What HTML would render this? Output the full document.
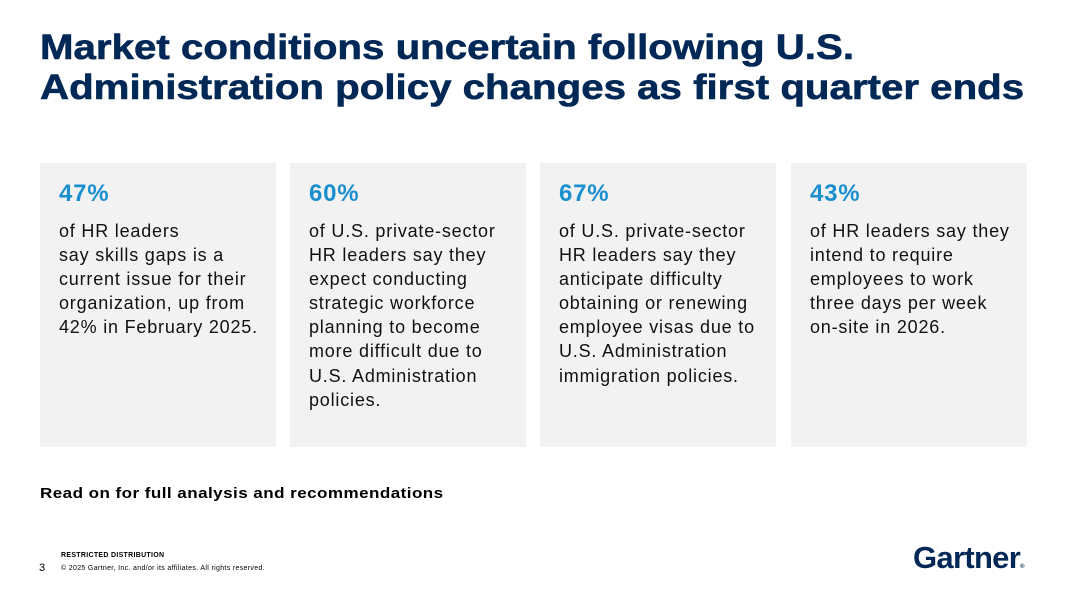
<!DOCTYPE html>
<html><head><style>
body{margin:0;width:1067px;height:600px;background:#fff;font-family:"Liberation Sans",sans-serif;position:relative;overflow:hidden}
h1{position:absolute;left:40px;top:28px;margin:0;font-size:35px;line-height:40px;color:#002856;font-weight:bold;white-space:nowrap;transform:scaleX(1.15);transform-origin:0 0;-webkit-text-stroke:0.6px #002856}
.card{position:absolute;top:163px;width:236px;height:284px;background:#f2f2f2}
.pc{margin:17px 0 0 19px;font-size:24px;font-weight:bold;color:#1a8fd0;line-height:28px;letter-spacing:0.8px}
.tx{margin:11px 8px 0 19px;font-size:18px;line-height:24.1px;color:#111;letter-spacing:0.8px}
.read{position:absolute;left:40px;top:485px;font-size:15px;font-weight:bold;color:#000;letter-spacing:0.4px;transform:scaleX(1.135);transform-origin:0 0}
.rd{position:absolute;left:61px;top:552px;font-size:7px;font-weight:bold;letter-spacing:0.3px}
.cp{position:absolute;left:61px;top:565px;font-size:7px;letter-spacing:0.33px}
.n{position:absolute;left:39px;top:562px;font-size:11px}
.g{position:absolute;left:913px;top:540px;font-size:31px;font-weight:bold;color:#002856;letter-spacing:-0.7px}
</style></head><body>
<h1>Market conditions uncertain following U.S.<br>Administration policy changes as first quarter ends</h1>
<div class="card" style="left:40px"><div class="pc">47%</div><div class="tx">of HR leaders<br>say skills gaps is a current issue for their organization, up from 42% in February 2025.</div></div>
<div class="card" style="left:290px"><div class="pc">60%</div><div class="tx">of U.S. private-sector HR leaders say they expect conducting strategic workforce planning to become more difficult due to U.S. Administration policies.</div></div>
<div class="card" style="left:540px"><div class="pc">67%</div><div class="tx">of U.S. private-sector HR leaders say they anticipate difficulty obtaining or renewing employee visas due to U.S. Administration immigration policies.</div></div>
<div class="card" style="left:791px"><div class="pc">43%</div><div class="tx">of HR leaders say they intend to require employees to work three days per week on-site in 2026.</div></div>
<div class="read">Read on for full analysis and recommendations</div>
<div class="rd">RESTRICTED DISTRIBUTION</div>
<div class="n">3</div>
<div class="cp">© 2025 Gartner, Inc. and/or its affiliates. All rights reserved.</div>
<div class="g">Gartner<span style="font-size:6px">®</span></div>
</body></html>
